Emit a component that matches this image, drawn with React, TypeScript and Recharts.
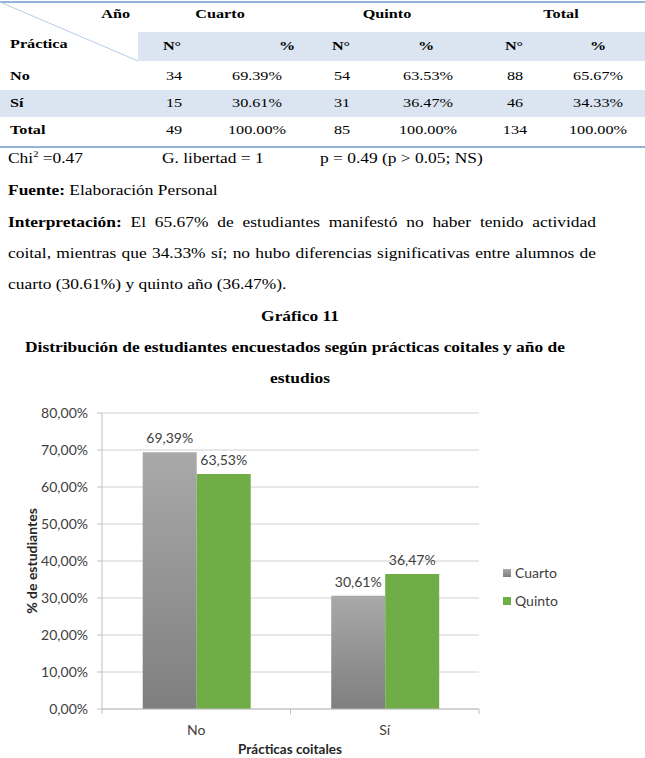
import React from "react";
import { Bar, BarChart, CartesianGrid, LabelList, Legend, XAxis, YAxis } from "recharts";

// chart data
const categories = ["No", "Sí"];
const cuarto = [69.39, 30.61];
const quinto = [63.53, 36.47];
const yTicks = [0, 10, 20, 30, 40, 50, 60, 70, 80];

// table data
const rowLabels = ["No", "Sí", "Total"];
const cuartoN = ["34", "15", "49"];
const cuartoPct = ["69.39%", "30.61%", "100.00%"];
const quintoN = ["54", "31", "85"];
const quintoPct = ["63.53%", "36.47%", "100.00%"];
const totalN = ["88", "46", "134"];
const totalPct = ["65.67%", "34.33%", "100.00%"];

const data = categories.map((c, i) => ({ name: c, cuarto: cuarto[i], quinto: quinto[i] }));

const SERIF = '"Liberation Serif", "Times New Roman", serif';
const SANS = 'Lato, "Open Sans", sans-serif';
const LINE_BLUE = "#95b3d7";
const BAND = "#dbe5f1";
const AXIS = "#bfbfbf";
const INK = "#404040";

const pct = (v: number) => `${v.toFixed(2).replace(".", ",")}%`;

type TProps = {
  x: number;
  y: number;
  size?: number;
  bold?: boolean;
  anchor?: "start" | "middle" | "end";
  sx?: number;
  children: React.ReactNode;
};

function T({ x, y, size = 15, bold, anchor = "start", sx = 1.16, children }: TProps) {
  const tx = anchor === "start" ? "0" : anchor === "middle" ? "-50%" : "-100%";
  const origin = anchor === "start" ? "left" : anchor === "middle" ? "center" : "right";
  return (
    <div
      style={{
        position: "absolute",
        left: x,
        top: y,
        whiteSpace: "nowrap",
        fontFamily: SERIF,
        fontSize: size,
        fontWeight: bold ? 700 : 400,
        lineHeight: 1,
        color: "#000",
        transform: `translate(${tx}, -50%) scaleX(${sx})`,
        transformOrigin: `${origin} center`,
      }}
    >
      {children}
    </div>
  );
}

function JustLine({ y, children }: { y: number; children: React.ReactNode }) {
  const sx = 1.16;
  return (
    <div
      style={{
        position: "absolute",
        left: 8,
        top: y,
        width: 588 / sx,
        fontFamily: SERIF,
        fontSize: 15,
        lineHeight: 1,
        textAlign: "justify",
        textAlignLast: "justify",
        transform: `translateY(-50%) scaleX(${sx})`,
        transformOrigin: "left center",
      }}
    >
      {children}
    </div>
  );
}

function CategoryTick(props: any) {
  const { x, y, payload, index } = props;
  const half = payload?.offset ?? 0;
  return (
    <g>
      {half > 0 && <line x1={x + half} x2={x + half} y1={y} y2={y + 5} stroke={AXIS} />}
      {half > 0 && index === 0 && <line x1={x - half} x2={x - half} y1={y} y2={y + 5} stroke={AXIS} />}
      <text x={x} y={y + 20} textAnchor="middle" dominantBaseline="central" fill={INK} fontSize={14} fontFamily={SANS}>
        {payload.value}
      </text>
    </g>
  );
}

function LegendBox(props: any) {
  const items = props.payload || [];
  return (
    <div>
      {items.map((it: any) => (
        <div key={it.value} style={{ display: "flex", alignItems: "center", height: 28 }}>
          <svg width={8} height={8} style={{ display: "block" }}>
            <rect width={8} height={8} fill={it.color} />
          </svg>
          <span style={{ marginLeft: 4, fontFamily: SANS, fontSize: 14, color: INK, lineHeight: 1 }}>{it.value}</span>
        </div>
      ))}
    </div>
  );
}

const tableCols: { n: string[]; p: string[]; nx: number; px: number }[] = [
  { n: cuartoN, p: cuartoPct, nx: 174, px: 257 },
  { n: quintoN, p: quintoPct, nx: 342, px: 428 },
  { n: totalN, p: totalPct, nx: 515, px: 598 },
];
const rowY = [76, 103, 130];

export default function App() {
  const ts = 13.5;
  const tsx = 1.2;
  return (
    <div
      style={{
        position: "absolute",
        left: 0,
        top: 0,
        width: 645,
        height: 758,
        background: "#fff",
        overflow: "hidden",
      }}
    >
      {/* table */}
      <div style={{ position: "absolute", left: 138, top: 32, width: 507, height: 29, background: BAND }} />
      <div style={{ position: "absolute", left: 0, top: 90, width: 645, height: 27, background: BAND }} />
      <div style={{ position: "absolute", left: 0, top: 1, width: 645, height: 1.5, background: LINE_BLUE }} />
      <div style={{ position: "absolute", left: 0, top: 146, width: 645, height: 1.5, background: LINE_BLUE }} />
      <svg width={645} height={70} style={{ position: "absolute", left: 0, top: 0 }}>
        <line x1={0} y1={2} x2={138} y2={61} stroke="#b4cce6" strokeWidth={1} />
      </svg>

      <T x={130} y={14} size={ts} sx={tsx} bold anchor="end">Año</T>
      <T x={220} y={14} size={ts} sx={tsx} bold anchor="middle">Cuarto</T>
      <T x={387} y={14} size={ts} sx={tsx} bold anchor="middle">Quinto</T>
      <T x={561} y={14} size={ts} sx={tsx} bold anchor="middle">Total</T>
      <T x={10} y={44} size={ts} sx={tsx} bold>Práctica</T>
      <T x={172} y={46} size={ts} sx={tsx} bold anchor="middle">N°</T>
      <T x={287} y={46} size={ts} sx={tsx} bold anchor="middle">%</T>
      <T x={341} y={46} size={ts} sx={tsx} bold anchor="middle">N°</T>
      <T x={426} y={46} size={ts} sx={tsx} bold anchor="middle">%</T>
      <T x={514} y={46} size={ts} sx={tsx} bold anchor="middle">N°</T>
      <T x={598} y={46} size={ts} sx={tsx} bold anchor="middle">%</T>
      {rowLabels.map((r, i) => (
        <T key={r} x={10} y={rowY[i]} size={ts} sx={tsx} bold>{r}</T>
      ))}
      {tableCols.map((c, ci) =>
        rowY.map((y, i) => (
          <React.Fragment key={`${ci}-${i}`}>
            <T x={c.nx} y={y} size={ts} sx={tsx} anchor="middle">{c.n[i]}</T>
            <T x={c.px} y={y} size={ts} sx={tsx} anchor="middle">{c.p[i]}</T>
          </React.Fragment>
        ))
      )}

      {/* notes */}
      <T x={8} y={158}>Chi<sup style={{ fontSize: 9, verticalAlign: "6px" }}>2</sup> =0.47</T>
      <T x={162} y={158}>G. libertad = 1</T>
      <T x={320} y={158}>p = 0.49 (p &gt; 0.05; NS)</T>
      <T x={8} y={190}><b>Fuente:</b> Elaboración Personal</T>
      <JustLine y={222}><b>Interpretación:</b> El 65.67% de estudiantes manifestó no haber tenido actividad</JustLine>
      <JustLine y={253}>coital, mientras que 34.33% sí; no hubo diferencias significativas entre alumnos de</JustLine>
      <T x={8} y={284}>cuarto (30.61%) y quinto año (36.47%).</T>
      <T x={300} y={316} bold anchor="middle">Gráfico 11</T>
      <T x={295} y={347} bold anchor="middle">Distribución de estudiantes encuestados según prácticas coitales y año de</T>
      <T x={300} y={378} bold anchor="middle">estudios</T>

      {/* chart */}
      <div style={{ position: "absolute", left: 0, top: 400, width: 645, height: 358 }}>
        <BarChart
          width={645}
          height={358}
          data={data}
          margin={{ top: 13, right: 166, bottom: 29, left: 0 }}
          barCategoryGap="21.6%"
          barGap={0}
        >
          <defs>
            <linearGradient id="cuartoFill" x1="0" y1="0" x2="0" y2="1">
              <stop offset="0" stopColor="#a9a9a9" />
              <stop offset="1" stopColor="#7f7f7f" />
            </linearGradient>
          </defs>
          <CartesianGrid vertical={false} stroke="#d0d0d0" />
          <XAxis
            dataKey="name"
            height={20}
            axisLine={{ stroke: AXIS }}
            tickLine={false}
            tickSize={0}
            tickMargin={0}
            tick={<CategoryTick />}
            interval={0}
          />
          <YAxis
            width={102}
            domain={[0, 80]}
            ticks={yTicks}
            tickFormatter={pct}
            axisLine={{ stroke: AXIS }}
            tickLine={{ stroke: AXIS }}
            tickSize={5}
            tickMargin={9}
            tick={{ fill: INK, fontSize: 14, fontFamily: SANS }}
          />
          <Legend
            layout="vertical"
            align="center"
            verticalAlign="middle"
            content={<LegendBox />}
            wrapperStyle={{ left: 503, top: 159, width: 100 }}
          />
          <Bar dataKey="cuarto" name="Cuarto" fill="url(#cuartoFill)" isAnimationActive={false}>
            <LabelList dataKey="cuarto" position="top" offset={9} formatter={(v: any) => pct(Number(v))} fill={INK} fontSize={14} fontFamily={SANS} />
          </Bar>
          <Bar dataKey="quinto" name="Quinto" fill="#70ad47" isAnimationActive={false}>
            <LabelList dataKey="quinto" position="top" offset={9} formatter={(v: any) => pct(Number(v))} fill={INK} fontSize={14} fontFamily={SANS} />
          </Bar>
        </BarChart>
        <div
          style={{
            position: "absolute",
            left: 32,
            top: 161,
            transform: "translate(-50%, -50%) rotate(-90deg)",
            whiteSpace: "nowrap",
            fontFamily: SANS,
            fontWeight: 700,
            fontSize: 14,
            color: "#262626",
            lineHeight: 1,
          }}
        >
          % de estudiantes
        </div>
        <div
          style={{
            position: "absolute",
            left: 290,
            top: 349,
            transform: "translate(-50%, -50%)",
            whiteSpace: "nowrap",
            fontFamily: SANS,
            fontWeight: 700,
            fontSize: 13.5,
            color: "#262626",
            lineHeight: 1.1,
          }}
        >
          Prácticas coitales
        </div>
      </div>
    </div>
  );
}
